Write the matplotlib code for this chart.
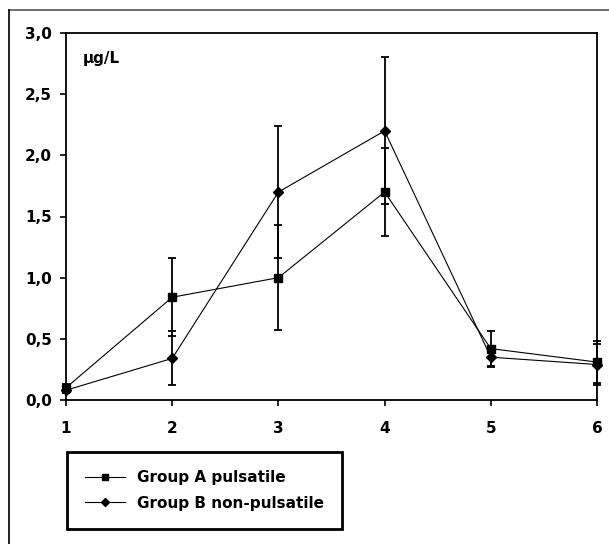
import matplotlib
matplotlib.use('Agg')
import matplotlib.pyplot as plt
from matplotlib.lines import Line2D

# Data
days = [1, 2, 3, 4, 5, 6]
group_a = [0.10, 0.84, 1.00, 1.70, 0.42, 0.31]
group_a_sd = [0.03, 0.32, 0.43, 0.36, 0.14, 0.17]
group_b = [0.08, 0.34, 1.70, 2.20, 0.35, 0.29]
group_b_sd = [0.02, 0.22, 0.54, 0.60, 0.08, 0.17]
yticks = [0.0, 0.5, 1.0, 1.5, 2.0, 2.5, 3.0]
ytick_labels = ['0,0', '0,5', '1,0', '1,5', '2,0', '2,5', '3,0']

plt.rcParams['font.family'] = ['DejaVu Sans']

fig = plt.figure(figsize=(6.09, 5.44), dpi=100)
W, H = 609, 544
ax = fig.add_axes([66 / W, 1 - 400 / H, (597 - 66) / W, (400 - 33) / H])

for vals, sd in [(group_a, group_a_sd), (group_b, group_b_sd)]:
    eb = ax.errorbar(days, vals, yerr=sd, fmt='none', ecolor='black',
                     elinewidth=1.3, capsize=3, capthick=1.3, zorder=2)
    for art in eb.get_children():
        art.set_clip_on(False)

ax.plot(days, group_a, color='black', lw=0.8, marker='s', ms=6,
        label='Group A pulsatile', zorder=3, clip_on=False)
ax.plot(days, group_b, color='black', lw=0.8, marker='D', ms=5.5,
        label='Group B non-pulsatile', zorder=3, clip_on=False)

ax.set_xlim(1, 6)
ax.set_ylim(0, 3.0)
ax.set_xticks(days)
ax.set_yticks(yticks)
ax.set_yticklabels(ytick_labels)
for lab in ax.get_xticklabels() + ax.get_yticklabels():
    lab.set_fontweight('bold')
    lab.set_fontsize(11)
ax.tick_params(direction='out', length=4, width=1.2)
ax.tick_params(axis='y', pad=6)
ax.tick_params(axis='x', pad=11)
for s in ax.spines.values():
    s.set_linewidth(1.3)

ax.text(83 / W, 1 - 59 / H, 'µg/L', transform=fig.transFigure,
        fontsize=11, fontweight='bold', va='center', ha='left')

leg = fig.legend(loc='center', bbox_to_anchor=((64 + 345) / 2 / W, 1 - (453 + 528) / 2 / H),
                 frameon=True, fancybox=False, edgecolor='black', framealpha=1,
                 prop={'weight': 'bold', 'size': 11}, handlelength=2.6,
                 handletextpad=0.8, markerscale=0.8,
                 borderpad=1.2, labelspacing=0.7)
leg.get_frame().set_linewidth(2.0)

# outer frame of the picture (top and left only)
fig.add_artist(Line2D([9 / W, 1], [1 - 10 / H, 1 - 10 / H], color='#555555', lw=1.2))
fig.add_artist(Line2D([9 / W, 9 / W], [0, 1 - 10 / H], color='black', lw=1.2))

fig.savefig('out.png', dpi=100)
